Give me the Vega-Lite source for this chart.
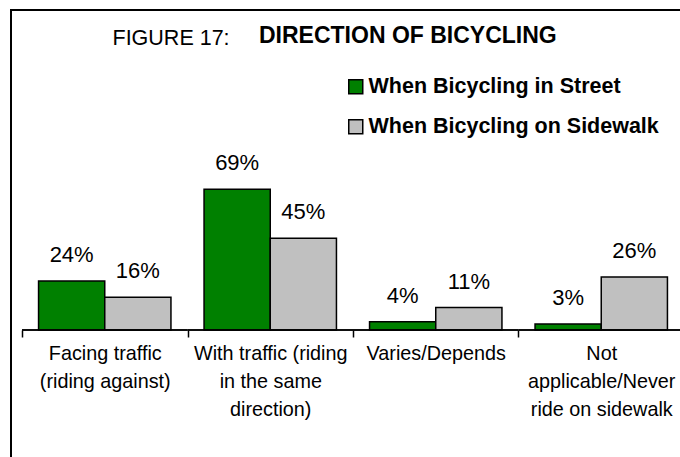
{
  "$schema": "https://vega.github.io/schema/vega-lite/v6.json",
  "width": 684,
  "height": 470,
  "autosize": {"type": "none"},
  "padding": {"left": 11, "top": 10, "right": -15, "bottom": -23},
  "background": "white",
  "config": {
    "view": {"stroke": "black", "strokeWidth": 2, "fill": "white"},
    "font": "Liberation Sans"
  },
  "title": {
    "text": "DIRECTION OF BICYCLING",
    "anchor": "start",
    "frame": "group",
    "orient": "top",
    "offset": -56,
    "dx": 248,
    "fontSize": 23,
    "fontWeight": "bold",
    "color": "black",
    "baseline": "alphabetic",
    "font": "Liberation Sans"
  },
  "data": {
    "values": [
      {"response": "Facing traffic (riding against)", "setting": "When Bicycling in Street", "value": 0.24},
      {"response": "Facing traffic (riding against)", "setting": "When Bicycling on Sidewalk", "value": 0.16},
      {"response": "With traffic (riding in the same direction)", "setting": "When Bicycling in Street", "value": 0.69},
      {"response": "With traffic (riding in the same direction)", "setting": "When Bicycling on Sidewalk", "value": 0.45},
      {"response": "Varies/Depends", "setting": "When Bicycling in Street", "value": 0.04},
      {"response": "Varies/Depends", "setting": "When Bicycling on Sidewalk", "value": 0.11},
      {"response": "Not applicable/Never ride on sidewalk", "setting": "When Bicycling in Street", "value": 0.03},
      {"response": "Not applicable/Never ride on sidewalk", "setting": "When Bicycling on Sidewalk", "value": 0.26}
    ]
  },
  "encoding": {
    "x": {
      "field": "response",
      "type": "nominal",
      "sort": ["Facing traffic (riding against)", "With traffic (riding in the same direction)", "Varies/Depends", "Not applicable/Never ride on sidewalk"],
      "scale": {"paddingInner": 0, "paddingOuter": 0.0665},
      "axis": {
        "title": null,
        "orient": "bottom",
        "offset": -150,
        "domain": false,
        "grid": false,
        "ticks": true,
        "tickBand": "extent",
        "tickSize": 7,
        "tickWidth": 1.5,
        "tickColor": "black",
        "labelAngle": 0,
        "labelFontSize": 19.8,
        "labelColor": "black",
        "labelFont": "Liberation Sans",
        "labelLineHeight": 28,
        "labelPadding": 6,
        "labelLimit": 0,
        "labelExpr": "datum.label == 'Facing traffic (riding against)' ? ['Facing traffic', '(riding against)'] : datum.label == 'With traffic (riding in the same direction)' ? ['With traffic (riding', 'in the same', 'direction)'] : datum.label == 'Not applicable/Never ride on sidewalk' ? ['Not', 'applicable/Never', 'ride on sidewalk'] : datum.label"
      }
    }
  },
  "layer": [
    {
      "mark": {"type": "bar", "stroke": "black", "strokeWidth": 1.5},
      "encoding": {
        "y": {
          "field": "value",
          "type": "quantitative",
          "scale": {"domain": [-0.7353, 1.5686], "nice": false, "zero": false},
          "axis": {
            "title": "FIGURE 17:",
            "titleAngle": 0,
            "titleX": 101,
            "titleY": 34,
            "titleAlign": "left",
            "titleBaseline": "alphabetic",
            "titleFontSize": 21.5,
            "titleFontWeight": "normal",
            "titleColor": "black",
            "titleFont": "Liberation Sans",
            "domain": false,
            "ticks": false,
            "labels": false,
            "grid": false
          }
        },
        "xOffset": {
          "field": "setting",
          "type": "nominal",
          "sort": ["When Bicycling in Street", "When Bicycling on Sidewalk"],
          "scale": {"paddingInner": 0, "paddingOuter": 0.25}
        },
        "color": {
          "field": "setting",
          "type": "nominal",
          "sort": ["When Bicycling in Street", "When Bicycling on Sidewalk"],
          "scale": {"domain": ["When Bicycling in Street", "When Bicycling on Sidewalk"], "range": ["#008000", "#C0C0C0"]},
          "legend": {
            "title": null,
            "orient": "none",
            "legendX": 334,
            "legendY": 66,
            "padding": 0,
            "symbolType": "square",
            "symbolSize": 196,
            "symbolStrokeColor": "black",
            "symbolStrokeWidth": 1.5,
            "symbolOpacity": 1,
            "labelFontSize": 21.5,
            "labelFontWeight": "bold",
            "labelColor": "black",
            "labelFont": "Liberation Sans",
            "labelOffset": 2,
            "rowPadding": 17,
            "labelLimit": 0
          }
        }
      }
    },
    {
      "mark": {"type": "bar", "fill": null, "fillOpacity": 0, "stroke": "black", "strokeWidth": 1.5},
      "encoding": {
        "y": {
          "datum": 0,
          "type": "quantitative",
          "axis": {
            "title": "FIGURE 17:",
            "titleAngle": 0,
            "titleX": 101,
            "titleY": 34,
            "titleAlign": "left",
            "titleBaseline": "alphabetic",
            "titleFontSize": 21.5,
            "titleFontWeight": "normal",
            "titleColor": "black",
            "titleFont": "Liberation Sans",
            "domain": false,
            "ticks": false,
            "labels": false,
            "grid": false
          }
        },
        "y2": {"datum": 0}
      }
    },
    {
      "mark": {"type": "text", "dy": -19, "baseline": "alphabetic", "fontSize": 22, "color": "black", "font": "Liberation Sans"},
      "encoding": {
        "y": {
          "field": "value",
          "type": "quantitative",
          "axis": {
            "title": "FIGURE 17:",
            "titleAngle": 0,
            "titleX": 101,
            "titleY": 34,
            "titleAlign": "left",
            "titleBaseline": "alphabetic",
            "titleFontSize": 21.5,
            "titleFontWeight": "normal",
            "titleColor": "black",
            "titleFont": "Liberation Sans",
            "domain": false,
            "ticks": false,
            "labels": false,
            "grid": false
          }
        },
        "xOffset": {
          "field": "setting",
          "type": "nominal",
          "sort": ["When Bicycling in Street", "When Bicycling on Sidewalk"],
          "scale": {"paddingInner": 0, "paddingOuter": 0.25}
        },
        "text": {"field": "value", "type": "quantitative", "format": ".0%"}
      }
    }
  ]
}
